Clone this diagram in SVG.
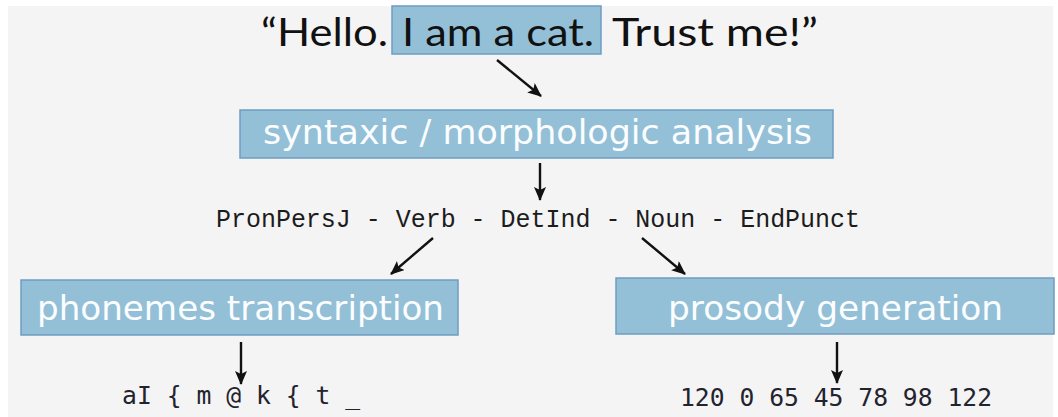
<svg xmlns="http://www.w3.org/2000/svg" width="1058" height="417" viewBox="0 0 1058 417">
  <style>
    .box { fill: #93c0d7; stroke: #6f9cc2; stroke-width: 1.5; }
    .box-label { font-family: "DejaVu Sans", Verdana, sans-serif; font-size: 33px; fill: #fbfdff; text-anchor: start; }
    .hand { font-family: "Lato", "Open Sans", sans-serif; font-size: 38px; fill: #111; }
    .tags { font-family: "Liberation Mono", "Courier New", monospace; font-size: 25px; fill: #1c1c1c; }
    .code { font-family: "DejaVu Sans Mono", monospace; font-size: 24px; fill: #23232e; }
    .arrow { stroke: #111; stroke-width: 2.4; fill: none; marker-end: url(#head); }
  </style>
  <defs>
    <marker id="head" markerUnits="userSpaceOnUse" viewBox="0 0 14 12" markerWidth="14" markerHeight="12" refX="13" refY="6" orient="auto">
      <path d="M0,0 L14,6 L0,12 L3,6 z" fill="#111"/>
    </marker>
  </defs>

  <!-- page background -->
  <rect x="0" y="0" width="1058" height="417" fill="#ffffff"/>
  <rect x="8" y="6" width="1045" height="411" fill="#f4f4f4"/>

  <!-- input sentence with the highlighted clause -->
  <g id="input-sentence">
    <rect class="box" x="392" y="6" width="209" height="48"/>
    <text class="hand" x="261" y="46" textLength="127" lengthAdjust="spacingAndGlyphs">“Hello.</text>
    <text class="hand" x="402" y="46" textLength="192" lengthAdjust="spacingAndGlyphs">I am a cat.</text>
    <text class="hand" x="612" y="46" textLength="206" lengthAdjust="spacingAndGlyphs">Trust me!”</text>
  </g>

  <g id="analysis">
    <rect class="box" x="240" y="110" width="593" height="48"/>
    <text class="box-label" x="263" y="144" textLength="549" lengthAdjust="spacingAndGlyphs">syntaxic / morphologic analysis</text>
  </g>

  <g id="pos-tags">
    <text class="tags" x="216" y="227" textLength="644" lengthAdjust="spacingAndGlyphs">PronPersJ - Verb - DetInd - Noun - EndPunct</text>
  </g>

  <g id="phonemes">
    <rect class="box" x="21" y="280" width="437" height="55"/>
    <text class="box-label" x="37" y="320" textLength="407" lengthAdjust="spacingAndGlyphs">phonemes transcription</text>
  </g>

  <g id="prosody">
    <rect class="box" x="616" y="278" width="438" height="56"/>
    <text class="box-label" x="668" y="320" textLength="335" lengthAdjust="spacingAndGlyphs">prosody generation</text>
  </g>

  <g id="phoneme-output">
    <text class="code" x="122" y="404" textLength="238" lengthAdjust="spacingAndGlyphs">aI { m @ k { t _</text>
  </g>

  <g id="prosody-output">
    <text class="code" x="680" y="406" textLength="312" lengthAdjust="spacingAndGlyphs">120 0 65 45 78 98 122</text>
  </g>

  <!-- connectors -->
  <g id="connectors">
    <line class="arrow" x1="497" y1="60" x2="541" y2="96"/>
    <line class="arrow" x1="540" y1="163" x2="540" y2="200"/>
    <line class="arrow" x1="433" y1="238" x2="391" y2="274"/>
    <line class="arrow" x1="642" y1="238" x2="685" y2="274"/>
    <line class="arrow" x1="241" y1="342" x2="241" y2="384"/>
    <line class="arrow" x1="837" y1="342" x2="837" y2="383"/>
  </g>
</svg>
